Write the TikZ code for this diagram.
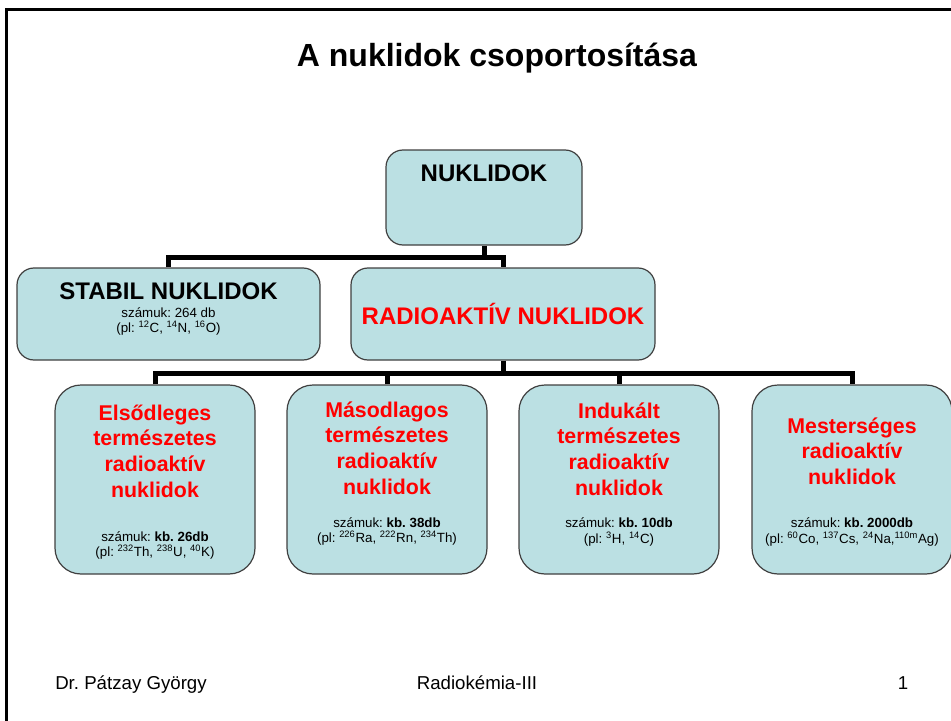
\documentclass[tikz,border=0pt]{standalone}
\usepackage{fontspec}
\setmainfont{Liberation Sans}
\usetikzlibrary{calc}
\definecolor{boxfill}{RGB}{187,224,227}
\definecolor{boxline}{RGB}{64,64,64}
\definecolor{hred}{RGB}{255,0,0}
\frenchspacing
\begin{document}
\begin{tikzpicture}[x=0.75pt,y=-0.75pt,
  topbox/.style={draw=boxline, line width=0.9pt, fill=boxfill, inner sep=0pt,
    rounded corners=12.75pt},
  lowbox/.style={draw=boxline, line width=0.9pt, fill=boxfill, inner sep=0pt,
    rounded corners=19.5pt, minimum width=150pt, minimum height=141.75pt},
  conn/.style={line width=3.75pt, line join=miter, black},
  txt/.style={inner sep=0pt, anchor=base},
  headtxt/.style={txt, font=\fontsize{18}{21}\selectfont\bfseries},
  redtxt/.style={txt, text=hred, font=\fontsize{16}{19}\selectfont\bfseries},
  smalltxt/.style={txt, font=\fontsize{10}{12}\selectfont},
  foottxt/.style={txt, font=\fontsize{14}{16}\selectfont}]
\useasboundingbox (0,0) rectangle (951,721);

% slide frame
\draw[line width=2.25pt] (6,721) -- (6,9.5) -- (951,9.5);

% title
\node[txt, font=\fontsize{24}{28}\selectfont\bfseries] (title) at (497,66)
  {A nuklidok csoportosítása};

% boxes
\node[topbox, minimum width=147pt, minimum height=71.25pt] (nuk) at (484,197.5) {};
\node[topbox, minimum width=227.25pt, minimum height=69pt] (stab) at (168.5,314) {};
\node[topbox, minimum width=228pt, minimum height=69pt] (rad) at (503,314) {};
\node[lowbox] (b1) at (155,479.5) {};
\node[lowbox] (b2) at (387,479.5) {};
\node[lowbox] (b3) at (619,479.5) {};
\node[lowbox] (b4) at (852,479.5) {};

% connectors
\coordinate (j1) at ($(nuk.south)+(0,12)$);
\coordinate (j2) at ($(rad.south)+(0,13)$);
\draw[conn] (nuk.south) -- (j1);
\draw[conn] (stab.north) |- (j1) -| (rad.north);
\draw[conn] (rad.south) -- (j2);
\draw[conn] (b1.north) |- (j2) -| (b4.north);
\draw[conn] (b2.north) -- (b2.north |- j2);
\draw[conn] (b3.north) -- (b3.north |- j2);

% box texts
\node[headtxt] (nukt) at (484,181) {NUKLIDOK};
\node[headtxt] (stabt) at (168.5,299) {STABIL NUKLIDOK};
\node[smalltxt] (stabn) at (168.5,317) {számuk: 264 db};
\node[smalltxt] (stabp) at (168.5,332)
  {(pl: \textsuperscript{12}C, \textsuperscript{14}N, \textsuperscript{16}O)};
\node[headtxt, text=hred] (radt) at (503,324) {RADIOAKTÍV NUKLIDOK};

\foreach \t [count=\i] in {Elsődleges, természetes, radioaktív, nuklidok}
  \node[redtxt] (b1t\i) at (155,{420+25.7*(\i-1)}) {\t};
\node[smalltxt] (b1n) at (155,541) {számuk: \textbf{kb. 26db}};
\node[smalltxt] (b1p) at (155,556)
  {(pl: \textsuperscript{232}Th, \textsuperscript{238}U, \textsuperscript{40}K)};

\foreach \t [count=\i] in {Másodlagos, természetes, radioaktív, nuklidok}
  \node[redtxt] (b2t\i) at (387,{417+25.7*(\i-1)}) {\t};
\node[smalltxt] (b2n) at (387,527) {számuk: \textbf{kb. 38db}};
\node[smalltxt] (b2p) at (387,542)
  {(pl: \textsuperscript{226}Ra, \textsuperscript{222}Rn, \textsuperscript{234}Th)};

\foreach \t [count=\i] in {Indukált, természetes, radioaktív, nuklidok}
  \node[redtxt] (b3t\i) at (619,{418+25.7*(\i-1)}) {\t};
\node[smalltxt] (b3n) at (619,527) {számuk: \textbf{kb. 10db}};
\node[smalltxt] (b3p) at (619,543)
  {(pl: \textsuperscript{3}H, \textsuperscript{14}C)};

\foreach \t [count=\i] in {Mesterséges, radioaktív, nuklidok}
  \node[redtxt] (b4t\i) at (852,{433+25.7*(\i-1)}) {\t};
\node[smalltxt] (b4n) at (852,527) {számuk: \textbf{kb. 2000db}};
\node[smalltxt] (b4p) at (852,543)
  {(pl: \textsuperscript{60}Co, \textsuperscript{137}Cs, \textsuperscript{24}Na,\textsuperscript{110m}Ag)};

% footer
\node[foottxt, anchor=base west] (author) at (55,689) {Dr. Pátzay György};
\node[foottxt] (course) at (477,689) {Radiokémia-III};
\node[foottxt] (page) at (903,689) {1};
\end{tikzpicture}
\end{document}
